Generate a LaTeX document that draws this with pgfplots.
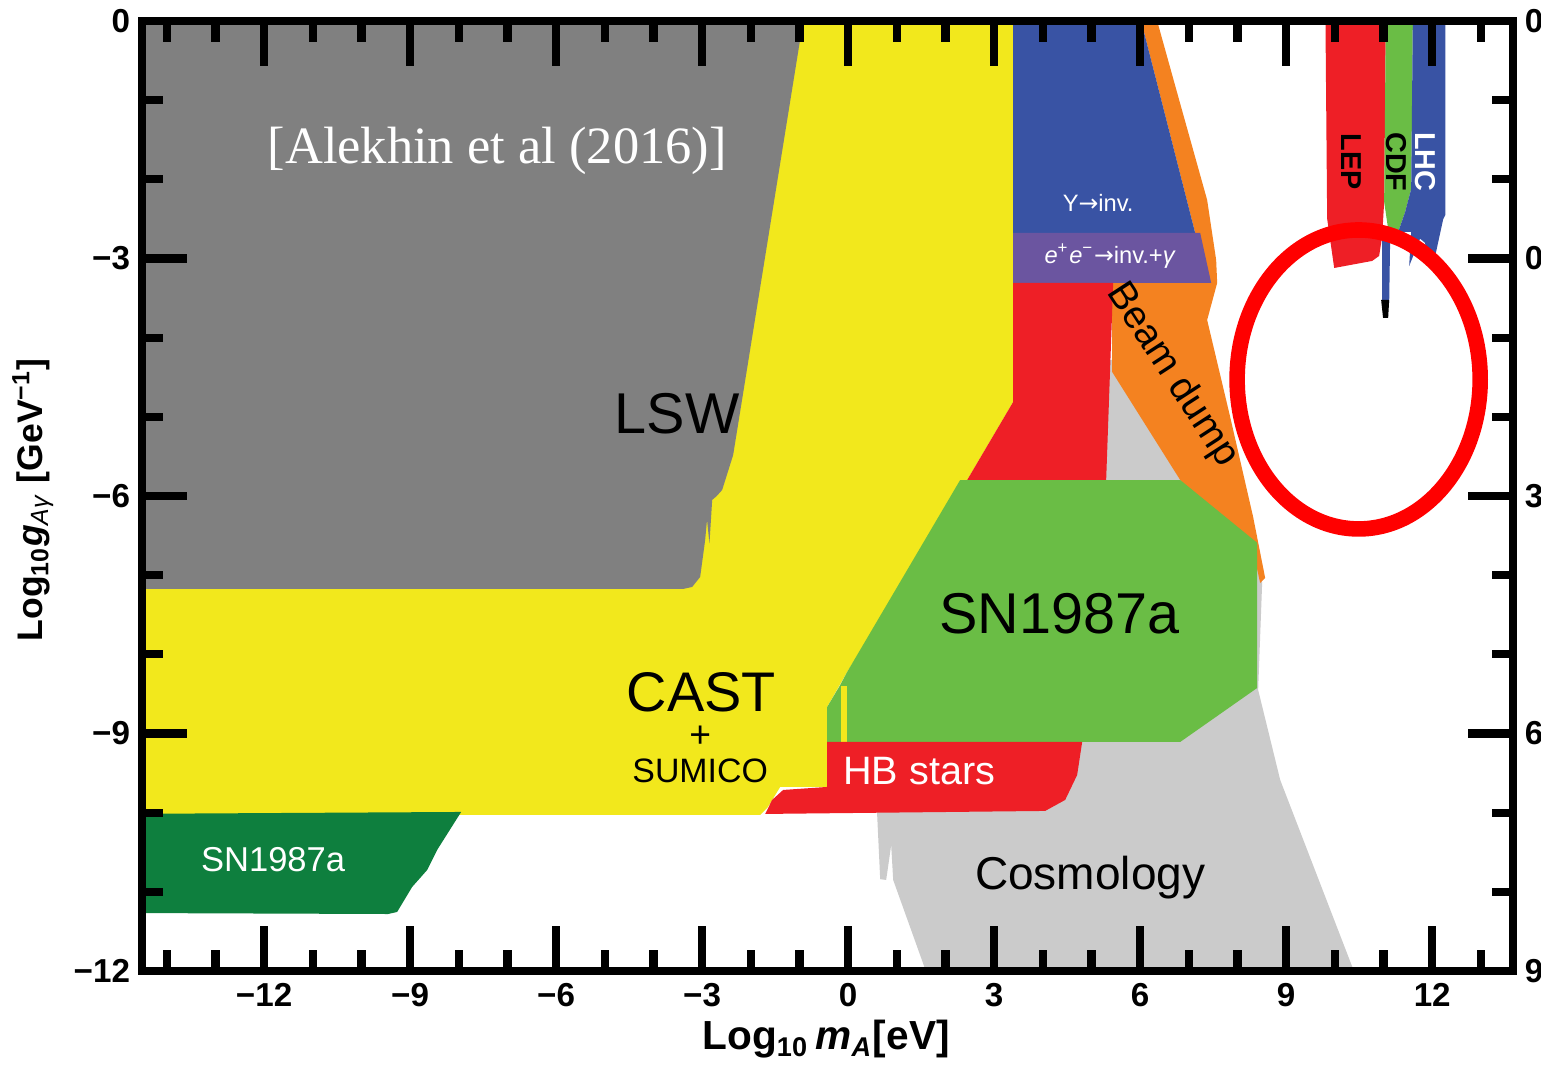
\documentclass[border=0pt]{standalone}
\usepackage{fontspec}
\setmainfont{Liberation Sans}
\newfontfamily\tnr{Liberation Serif}
\newfontfamily\dejavu{DejaVu Sans}
\usepackage{pgfplots}
\pgfplotsset{compat=1.18}
\definecolor{lsw}{HTML}{808080}
\definecolor{cast}{HTML}{F2E81C}
\definecolor{ublue}{HTML}{3953A4}
\definecolor{upurp}{HTML}{6B55A0}
\definecolor{ured}{HTML}{EE1F26}
\definecolor{uorange}{HTML}{F48220}
\definecolor{ugreen}{HTML}{6ABD45}
\definecolor{dgreen}{HTML}{0E7F3E}
\definecolor{cosmo}{HTML}{CBCBCB}
\newcommand{\arr}{{\dejavu →}}
\pgfplotsset{
  common/.style={
    at={(0,0)}, anchor=south west,
    scale only axis, width=14.235cm, height=9.864cm,
    xmin=-14.51, xmax=13.66, ymin=-12, ymax=0,
    major tick length=0.47cm, minor tick length=0.22cm,
    tick align=inside,
    tick style={line width=2.4pt, black},
    axis line style={line width=2.4pt, black},
    tick label style={font=\fontsize{9.8}{11}\selectfont\bfseries},
  }
}
\begin{document}
\begin{tikzpicture}
\begin{axis}[common,
  axis on top, clip mode=individual,
  xtick={-12,-9,-6,-3,0,3,6,9,12}, xticklabels={−12,−9,−6,−3,0,3,6,9,12},
  minor xtick={-14,-13,...,13},
  ytick={-12,-9,-6,-3,0}, yticklabels={−12,−9,−6,−3,0},
  minor ytick={-11,-10,-8,-7,-5,-4,-2,-1},
  xtick pos=both, ytick pos=left,
]
% Cosmology (light grey)
\addplot[fill=cosmo, draw=none] coordinates {
 (5.424,-4.28) (6.822,-5.798) (8.403,-6.591) (8.506,-7.099) (8.424,-8.450)
 (8.877,-9.587) (10.46,-12.11) (1.66,-12.11) (0.925,-10.85) (0.884,-10.41)
 (0.781,-10.85) (0.658,-10.84) (0.596,-10.03) (0.596,-9.107) (3.0,-5.798) (5.30,-4.28)} --cycle;
% Beam dump (orange)
\addplot[fill=uorange, draw=none] coordinates {
 (6.02,0.5) (6.15,0.5) (6.349,0) (6.801,-0.998) (7.376,-2.261) (7.561,-3.019)
 (7.582,-3.309) (7.376,-3.777) (7.849,-5.002) (8.321,-6.265) (8.568,-7.035)
 (8.465,-7.099) (8.362,-6.808) (6.822,-5.798) (5.424,-4.433) (5.424,-3.309)
 (7.130,-2.678) (6.02,0)} --cycle;
% CAST + SUMICO (yellow)
\addplot[fill=cast, draw=none] coordinates {
 (-15,0.5) (3.39,0.5) (3.39,-4.812) (2.445,-5.798) (-0.021,-8.223) (-0.431,-8.665)
 (-0.431,-9.675) (-1.397,-9.675) (-1.65,-9.93) (-1.808,-10.029) (-15,-10.029)} --cycle;
% LSW (grey)
\addplot[fill=lsw, draw=none] coordinates {
 (-15,0.5) (-0.85,0.5) (-0.925,0) (-2.363,-5.482) (-2.589,-5.924) (-2.70,-6.00)
 (-2.794,-6.050) (-2.85,-6.60) (-2.90,-6.30) (-2.938,-6.555) (-3.041,-7.023)
 (-3.205,-7.149) (-3.390,-7.174) (-15,-7.174)} --cycle;
% Upsilon -> inv (blue)
\addplot[fill=ublue, draw=none] coordinates {
 (3.39,0.5) (6.02,0.5) (6.02,0) (7.130,-2.678) (3.39,-2.678)} --cycle;
% e+e- -> inv + gamma (purple)
\addplot[fill=upurp, draw=none] coordinates {
 (3.39,-2.678) (7.233,-2.678) (7.459,-3.309) (3.39,-3.309)} --cycle;
% red middle
\addplot[fill=ured, draw=none] coordinates {
 (3.39,-3.309) (5.445,-3.309) (5.301,-5.798) (2.445,-5.798) (3.39,-4.812)} --cycle;
% SN1987a (green)
\addplot[fill=ugreen, draw=none] coordinates {
 (-0.431,-9.107) (-0.431,-8.665) (-0.164,-8.387) (-0.021,-8.223) (2.301,-5.798)
 (6.822,-5.798) (8.403,-6.591) (8.403,-8.425) (6.822,-9.107)} --cycle;
% yellow strip
\addplot[fill=cast, draw=none] coordinates {
 (-0.144,-8.40) (-0.021,-8.40) (-0.021,-9.166) (-0.144,-9.166)} --cycle;
% HB stars (red)
\addplot[fill=ured, draw=none] coordinates {
 (-0.431,-9.107) (4.808,-9.107) (4.705,-9.524) (4.459,-9.839) (4.048,-9.978)
 (-1.705,-10.016) (-1.562,-9.839) (-1.336,-9.713) (-0.431,-9.675)} --cycle;
% SN1987a (dark green)
\addplot[fill=dgreen, draw=none] coordinates {
 (-15,-10.016) (-7.952,-9.991) (-8.445,-10.471) (-8.650,-10.724) (-8.958,-10.938)
 (-9.267,-11.254) (-9.452,-11.280) (-15,-11.267)} --cycle;
% LEP
\addplot[fill=ured, draw=none] coordinates {
 (9.80,0.5) (11.054,0.5) (11.013,-2.286) (10.972,-2.716) (10.910,-2.968)
 (10.766,-3.031) (9.986,-3.120) (9.842,-2.501)} --cycle;
% CDF
\addplot[fill=ugreen, draw=none] coordinates {
 (11.054,0.5) (11.61,0.5) (11.568,-2.122) (11.444,-2.412) (11.301,-2.665)
 (11.116,-2.716) (11.013,-2.286)} --cycle;
% LHC
\addplot[fill=ublue, draw=none] coordinates {
 (11.61,0.5) (12.27,0.5) (12.27,-2.450) (12.227,-2.501) (12.124,-2.791)
 (12.062,-2.968) (11.90,-2.95) (11.85,-2.80) (11.75,-2.75) (11.527,-3.095)
 (11.568,-2.665) (11.301,-2.665) (11.444,-2.412) (11.568,-2.122)} --cycle;
% thin blue line
\addplot[fill=ublue, draw=none] coordinates {
 (10.972,-2.716) (11.137,-2.716) (11.116,-3.562) (10.972,-3.562)} --cycle;
% black tip
\addplot[fill=black, draw=none] coordinates {
 (10.951,-3.524) (11.116,-3.524) (11.095,-3.751) (10.99,-3.751)} --cycle;

% ellipse
\draw[red, line width=4.6pt] (axis cs:10.489,-4.528) ellipse [x radius=1.262cm, y radius=1.552cm];

% labels
\node[anchor=base, text=white, font=\tnr\fontsize{15.5}{16}\selectfont] at (axis cs:-7.212,-1.794) {[Alekhin et al (2016)]};
\node[anchor=base, font=\fontsize{17}{18}\selectfont] at (axis cs:-3.514,-5.216) {LSW};
\node[anchor=base, font=\fontsize{16.5}{18}\selectfont] at (axis cs:-3.02,-8.727) {CAST};
\node[anchor=center, font=\fontsize{11}{12}\selectfont] at (axis cs:-3.041,-9.044) {+};
\node[anchor=base, font=\fontsize{10}{12}\selectfont] at (axis cs:-3.041,-9.624) {SUMICO};
\node[anchor=base, font=\fontsize{17}{18}\selectfont] at (axis cs:4.335,-7.742) {SN1987a};
\node[anchor=base, text=white, font=\fontsize{11.7}{13}\selectfont] at (axis cs:1.459,-9.650) {HB stars};
\node[anchor=base, text=white, font=\fontsize{10.2}{12}\selectfont] at (axis cs:-11.815,-10.749) {SN1987a};
\node[anchor=base, font=\fontsize{13.6}{15}\selectfont] at (axis cs:4.972,-10.976) {Cosmology};
\node[anchor=base, text=white, font=\fontsize{7}{8}\selectfont] at (axis cs:5.137,-2.412) {Υ\arr inv.};
\node[anchor=base, text=white, font=\fontsize{7}{8}\selectfont] at (axis cs:5.383,-3.069) {\textit{e}\textsuperscript{+}\textit{e}\textsuperscript{−}\arr inv.+\textit{γ}};
\node[anchor=center, rotate=-57, font=\fontsize{11.5}{13}\selectfont] at (axis cs:6.657,-4.471) {Beam dump};
\node[anchor=center, rotate=-90, font=\fontsize{8.5}{10}\selectfont\bfseries] at (axis cs:10.335,-1.781) {LEP};
\node[anchor=center, rotate=-90, font=\fontsize{8.5}{10}\selectfont\bfseries] at (axis cs:11.260,-1.781) {CDF};
\node[anchor=center, rotate=-90, text=white, font=\fontsize{8.5}{10}\selectfont\bfseries] at (axis cs:11.856,-1.781) {LHC};

% axis labels
\node[anchor=base, font=\fontsize{12}{14}\selectfont\bfseries] at ([yshift=-0.82cm]axis description cs:0.499,0) {Log\textsubscript{10}\,\textit{m}\textsubscript{\textit{A}}[eV]};
\node[anchor=center, rotate=90, font=\fontsize{10.5}{12}\selectfont\bfseries] at ([xshift=-1.132cm]axis description cs:0,0.496) {Log\textsubscript{10}\textit{g}\textsubscript{\textmd{\textit{Aγ}}} [GeV\textsuperscript{−1}]};
\end{axis}
\begin{axis}[common,
  axis x line=none, axis y line*=right,
  ytick={-12,-9,-6,-3,0}, yticklabels={9,6,3,0,0},
  minor ytick={-11,-10,-8,-7,-5,-4,-2,-1},
]
\end{axis}
\pgfresetboundingbox
\path[use as bounding box] (-1.474,-0.976) rectangle (14.526,10.082);
\end{tikzpicture}
\end{document}
